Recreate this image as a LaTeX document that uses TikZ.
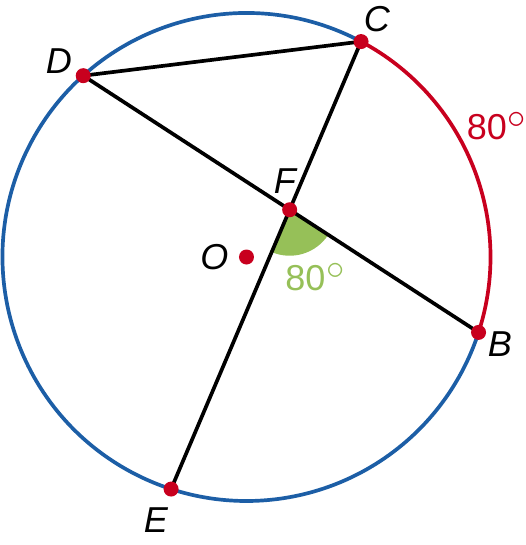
\documentclass[tikz,border=0pt]{standalone}
\usepackage{fontspec}
\setmainfont{Liberation Sans}
\usetikzlibrary{angles}
\definecolor{arcblue}{RGB}{28,94,166}
\definecolor{arcred}{RGB}{200,0,30}
\definecolor{anglegreen}{RGB}{150,192,88}
\newcommand{\degmark}{\kern0.5pt\raisebox{6.5pt}{\fontsize{21}{21}\selectfont$\circ$}}

\begin{document}
\begin{tikzpicture}
  [font=\fontsize{20.5}{24}\selectfont,
  chord/.style={draw=black, line width=2.1pt},
  rim/.style={line width=2.1pt},
  dot/.style={circle, fill=arcred, inner sep=0pt, minimum size=0.3cm},
  lbl/.style={font=\fontsize{20.5}{24}\selectfont\itshape}]

  \useasboundingbox (-4.93,-5.76) rectangle (5.59,5.14);

  \coordinate (O) at (0,0);
  \coordinate (C) at (62:4.88);
  \coordinate (B) at (-18:4.88);
  \coordinate (D) at (132:4.88);
  \coordinate (E) at (252:4.88);
  \coordinate (F) at (intersection of D--B and C--E);

  % circle in two arcs
  \draw [rim, arcred] (B) arc [start angle=-18, end angle=62, radius=4.88];
  \draw [rim, arcblue] (C) arc [start angle=62, end angle=342, radius=4.88];

  \pic [fill=anglegreen, draw=none, angle radius=0.92cm] {angle = E--F--B};

  \begin{scope}[every path/.style=chord]
    \path (D) -- (C);
    \path (D) -- (B);
    \path (C) -- (E);
  \end{scope}

  \foreach \p in {O,B,C,D,E,F}
    \node [dot] at (\p) {};

  \node [lbl] (lC) at (2.61,4.76) {C};
  \node [lbl] (lD) at (-3.75,3.92) {D};
  \node [lbl] (lF) at (0.77,1.51) {F};
  \node [lbl] (lO) at (-0.64,0) {O};
  \node [lbl] (lB) at (5.07,-1.74) {B};
  \node [lbl] (lE) at (-1.81,-5.26) {E};
  \node [text=arcred, inner sep=0pt] (arcval) at (5.0,2.62) {80\degmark};
  \node [text=anglegreen, inner sep=0pt] (angval) at (1.37,-0.40) {80\degmark};
\end{tikzpicture}
\end{document}
